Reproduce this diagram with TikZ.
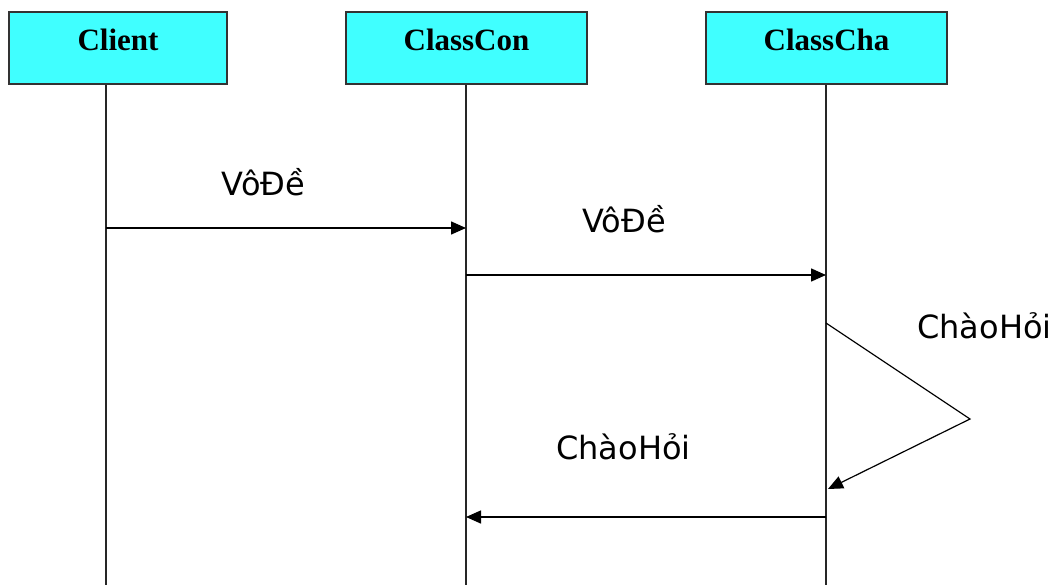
\documentclass[tikz,border=0pt]{standalone}
\usepackage{fontspec}
\setmainfont{Liberation Serif}
\newfontfamily\msgfont{DejaVu Sans}
\usetikzlibrary{arrows.meta,positioning,calc}
\definecolor{obj}{HTML}{40FFFF}
\definecolor{frame}{HTML}{333333}
\tikzset{
  >={Triangle[length=15pt,width=13pt]},
  objbox/.style={draw=frame,fill=obj,line width=1.6pt,inner sep=0pt,text height=39pt,text depth=33pt,font=\fontsize{31}{33}\selectfont\bfseries},
  life/.style={draw=black!85,line width=1.8pt},
  msg/.style={->,draw=black,line width=1.5pt},
  lab/.style={font=\msgfont\fontsize{32}{35}\selectfont,inner sep=0pt,anchor=base},
}
\begin{document}
\begin{tikzpicture}[x=1pt,y=-1pt]
\useasboundingbox (0,0) rectangle (1054,585);
% objects
\node[objbox,minimum width=218pt] (client) at (118,48) {Client};
\node[objbox,minimum width=241pt] (con) at (466.5,48) {ClassCon};
\node[objbox,minimum width=241pt] (cha) at (826.5,48) {ClassCha};
% lifelines
\coordinate (clientBot) at (106,585);
\coordinate (conBot) at (466,585);
\coordinate (chaBot) at (826,585);
\draw[life] (client.south -| clientBot) -- (clientBot);
\draw[life] (con.south -| conBot) -- (conBot);
\draw[life] (cha.south -| chaBot) -- (chaBot);
% messages
\coordinate (m1a) at (106,228); \coordinate (m1b) at (466,228);
\coordinate (m2a) at (466,275); \coordinate (m2b) at (826,275);
\coordinate (m3a) at (826,323); \coordinate (m3c) at (970,419); \coordinate (m3b) at (828,489);
\coordinate (m4a) at (826,517); \coordinate (m4b) at (466,517);
\draw[msg] (m1a) -- (m1b);
\draw[msg] (m2a) -- (m2b);
\draw[msg,line width=1.2pt] (m3a) -- (m3c) -- (m3b);
\draw[msg] (m4a) -- (m4b);
\node[lab] (lab1) at (263.5,196) {VôĐề};
\node[lab] (lab2) at (624,233) {VôĐề};
\node[lab] (lab3) at (984.5,338) {ChàoHỏi};
\node[lab] (lab4) at (623.5,459) {ChàoHỏi};
\end{tikzpicture}
\end{document}
